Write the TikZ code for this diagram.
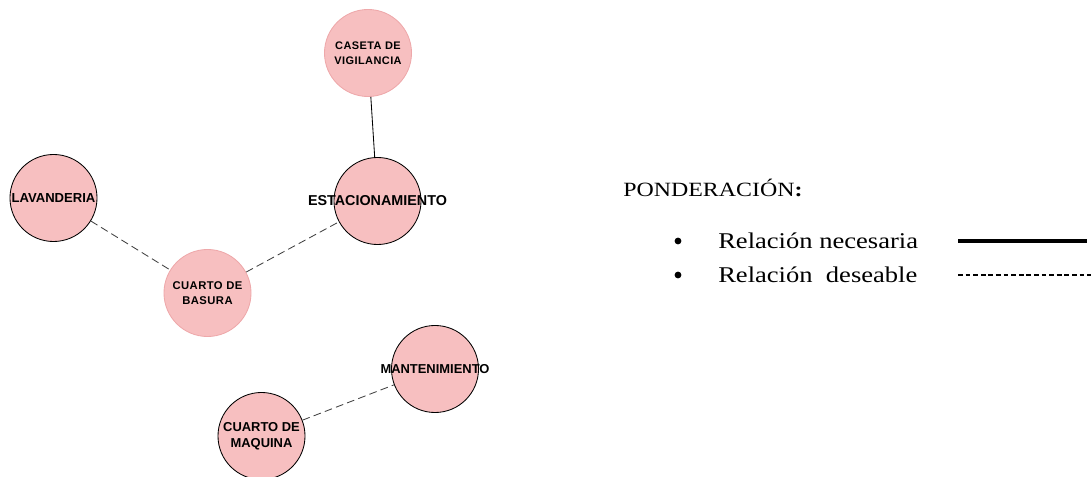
\documentclass[tikz,border=0pt]{standalone}
\usepackage{fontspec}
\setmainfont{Liberation Serif}
\newfontfamily\roomfont{Liberation Sans}
\newfontfamily\roomfontwide{Liberation Sans}[LetterSpace=4]
\newfontfamily\legendfont{Liberation Serif}[FakeStretch=1.18]
\usepackage{xcolor}
\usetikzlibrary{calc, positioning, arrows.meta}
\definecolor{roomfill}{RGB}{247,191,192}
\definecolor{roomedge}{RGB}{238,168,170}
\tikzset{
    zoning/.style={
        x=0.025cm, y=-0.025cm,
        room/.style={circle, draw=black, fill=roomfill, line width=0.6pt, minimum size=2.175cm, inner sep=0pt},
        softroom/.style={room, draw=roomedge},
        roomtext/.style={font=\roomfont\bfseries, align=center, text=black},
        necesaria/.style={line width=0.6pt, black},
        deseable/.style={line width=0.6pt, black!75, dash pattern=on 5.5pt off 3pt},
        legendtext/.style={font=\legendfont\fontsize{16}{18}\selectfont, anchor=west, inner sep=0pt},
        legendbullet/.style={circle, fill=black, inner sep=0pt, minimum size=0.17cm}
    }
}
\begin{document}
\begin{tikzpicture}[zoning]
        \useasboundingbox (0,0) rectangle (1091,477);
        % Rooms
        \node[softroom, label={[roomtext, font=\roomfontwide\bfseries\fontsize{7.8}{10.6}\selectfont]center:CASETA DE\\VIGILANCIA}] (caseta) at (368,53) {};
        \node[room, label={[roomtext, font=\roomfont\bfseries\fontsize{10.2}{12}\selectfont]center:ESTACIONAMIENTO}] (estac) at (377.5,201) {};
        \node[room, label={[roomtext, font=\roomfont\bfseries\fontsize{9.3}{11}\selectfont]center:LAVANDERIA}] (lavanderia) at (53.5,198) {};
        \node[softroom, label={[roomtext, font=\roomfontwide\bfseries\fontsize{8}{10.6}\selectfont]center:CUARTO DE\\BASURA}] (basura) at (207.5,293) {};
        \node[room, label={[roomtext, font=\roomfont\bfseries\fontsize{9.2}{11}\selectfont]center:MANTENIMIENTO}] (mant) at (435,369) {};
        \node[room, label={[roomtext, font=\roomfont\bfseries\fontsize{9.2}{11.3}\selectfont]center:CUARTO DE\\MAQUINA}] (maquina) at (261.5,436) {};

        % Relations
        \draw[necesaria] (caseta) -- (estac);
        \draw[deseable] (lavanderia) -- (basura);
        \draw[deseable] (basura) -- (estac);
        \draw[deseable] (maquina) -- (mant);

        % Legend
        \node[legendtext, font=\legendfont\fontsize{14.4}{16}\selectfont] (ponderacion) at (623,188) {PONDERACIÓN\textbf{:}};
        \node[legendbullet] (bullet1) at (678,241) {};
        \node[legendbullet] (bullet2) at (678,275) {};
        \node[legendtext] (itemnec) at (718,241) {Relación necesaria};
        \node[legendtext] (itemdes) at (718,275) {Relación\ \ deseable};

        \coordinate (nec-a) at (958,241);
        \coordinate (nec-b) at (1087,241);
        \coordinate (des-a) at (958,275);
        \coordinate (des-b) at (1091,275);
        \draw[line width=2.2pt] (nec-a) -- (nec-b);
        \draw[line width=0.8pt, dash pattern=on 3.4pt off 2pt] (des-a) -- (des-b);
    \end{tikzpicture}
\end{document}
